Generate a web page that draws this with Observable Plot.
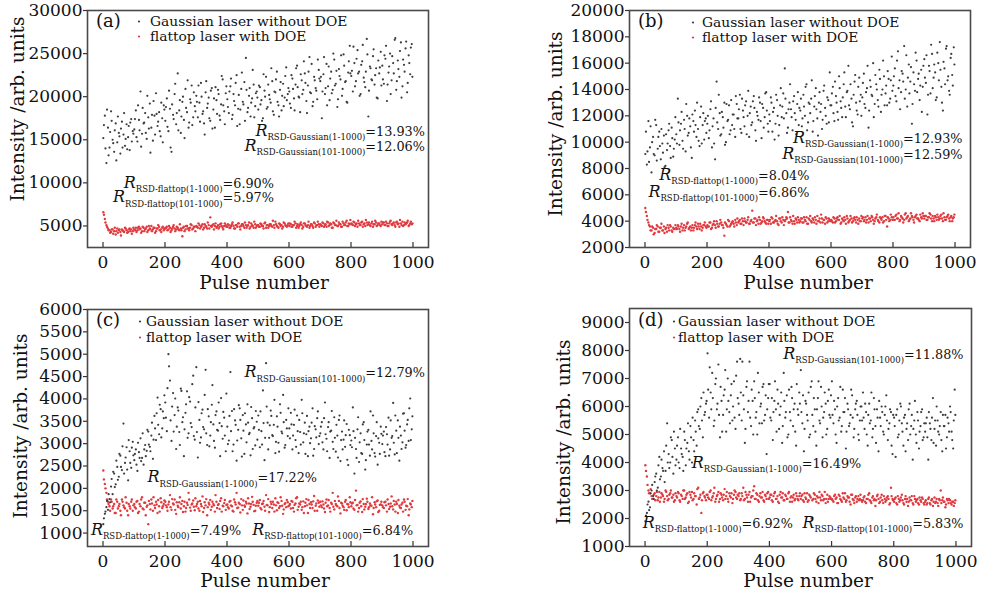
<!DOCTYPE html>
<html><head><meta charset="utf-8">
<script src="https://cdn.jsdelivr.net/npm/d3@7"></script>
<script src="https://cdn.jsdelivr.net/npm/@observablehq/plot@0.6"></script>
<style>
body{margin:0;background:#fff;}
#wrap{position:relative;width:982px;height:595px;overflow:hidden;background:#fff;}
.panel{position:absolute;}
.panel svg{overflow:visible;}
</style></head><body><div id="wrap"></div>
<script>
const startPulse1 = 1;
const startPulse2 = 3;
const sampleStep = 5;
const xTicks = [0, 200, 400, 600, 800, 1000];

// (a)
const gaussA = [
15200,17800,12300,16400,14100,18300,15000,13600,16900,14700,15800,13400,17100,15600,14300,16800,15300,13800,17400,16000,
16200,18400,14800,17300,20600,15700,16900,18100,15100,17600,19200,16400,14900,17800,20400,16600,18200,15400,17500,19000,
17200,19800,16000,18600,13600,17900,20300,16800,22700,18400,15800,19400,17300,20900,18200,16400,19700,21300,17600,18900,
20100,17600,19300,21600,18000,16900,20500,18700,19900,17200,21000,18500,16400,19600,20800,17800,19100,22000,18300,20400,
19700,18100,21200,17400,20300,19000,22500,18600,16800,20900,19400,21700,24500,18200,20100,17700,19800,21400,18900,20600,
18500,21100,19600,17500,20700,22300,18800,20200,19300,21800,17900,20500,22900,19000,20800,18400,21500,19900,23400,20300,
20600,18700,22100,19800,21400,23600,20000,18200,21900,20800,22700,19500,21300,24600,20400,18900,22300,21000,19700,23100,
21800,17500,22600,20300,23800,21200,19600,22900,20800,24300,21500,18800,23200,22000,20100,24900,21700,19400,22800,25900,
22400,20600,23900,21800,25400,22900,20300,24100,22200,21100,26700,17700,23500,22000,24700,21400,23300,19800,22700,25200,
23600,21500,24400,19500,22800,25000,21900,23900,26600,20800,24200,22300,26300,21200,23700,25600,20500,24800,22600,26100];
const gaussA2 = [
16700,14000,18500,13200,15900,17200,14600,16100,12600,17700,15400,16300,14100,18100,15100,13900,16600,17000,14800,15700,
17400,15300,19000,16100,14200,18700,17000,15800,20100,16300,13500,17900,19500,15600,18000,17100,16000,19300,14700,18500,
18800,16500,20700,14100,19100,17400,21500,18100,16100,19600,17700,20000,15200,18700,21900,17000,19300,16700,20500,18300,
19400,21300,17100,20000,18300,15600,21800,19200,17500,20700,16300,19800,21100,18000,20300,17300,22400,19000,16800,21200,
18800,20600,22100,17900,19500,21600,16600,20200,18500,22800,19100,17200,20800,18700,21000,19300,23100,17600,20400,19900,
21300,19100,17200,22600,20000,18600,21400,19700,23300,18300,20600,22000,19400,17700,21700,20100,18900,22400,19600,21000,
19200,22500,20900,18400,23300,21100,19900,22600,20300,24100,21600,18100,22900,20500,23800,19400,21900,20700,24300,22100,
22300,20600,24600,21000,19000,23500,22100,20400,25000,21300,23000,19700,22400,24800,20900,23600,21800,19300,24100,22700,
23000,25800,21200,24400,22700,20100,23700,26000,21700,22900,24900,20700,23300,21900,25500,22500,19900,24200,23400,21300,
22000,24800,25900,21400,23500,20300,24700,22700,26800,21800,23200,25300,19900,24300,22900,26400,21600,23900,25700,22300];
const flatA = [
6600,5800,5100,4700,4500,4300,4600,4400,4000,4700,4500,4300,4600,4400,4800,4500,4300,4700,4600,4400,
4600,4800,4500,4900,4700,4400,4800,4600,4900,4500,4700,5000,4600,4800,4400,4700,4900,4600,4800,4500,
4700,4900,4600,4800,4500,4900,4700,4600,4800,4500,4700,3800,4900,4600,5000,4700,4800,5100,4700,4900,
5000,4800,5100,4900,5200,4800,5000,4700,5100,6000,4900,5200,5000,4800,5100,4900,5300,4800,5000,5100,
4900,5100,4800,5200,5000,4700,5100,5300,4900,5000,5200,4800,5100,5000,5400,4900,5100,4800,5200,5000,
5100,4900,5200,5000,5300,4800,5100,5000,5200,4900,5100,5500,5000,4800,5200,5100,4900,5300,5000,5100,
5000,5200,4900,5100,5300,5000,4800,5200,5100,4900,5300,5000,5100,4800,5200,5000,5400,4900,5100,5200,
5200,5000,5300,5100,4900,5400,5100,5200,4800,5300,5100,5000,5400,5200,4900,5300,5100,5600,5000,5200,
5300,5100,5400,5200,4900,5300,5100,5500,5200,5000,5400,5200,5100,5300,4900,5200,5400,5100,5300,5000,
5200,5400,5100,5300,5000,5500,5200,5300,5100,5400,5200,4900,5300,5500,5100,5200,5400,5000,5300,5200];
const flatA2 = [
6300,5400,4900,4500,4200,4600,4100,4800,4400,4200,4600,3900,4500,4300,4700,4200,4600,4400,4100,4800,
4500,4300,4800,4600,4200,4900,4400,4700,4300,5000,4600,4400,4800,4200,4700,5100,4500,4300,4900,4700,
4800,4500,5000,4300,4700,5100,4400,4900,4600,5200,4500,4800,4400,5000,4700,4500,5200,4600,4900,4400,
4900,5300,4700,5000,4600,5200,4900,5400,4700,5000,5100,4600,5300,4900,4700,5200,5000,4600,5300,4900,
5200,4800,5000,5400,4700,5100,4900,5300,4600,5200,5000,5400,4800,5100,4700,5300,5000,5500,4800,5100,
4900,5300,5000,4700,5400,5100,4800,5200,5000,5600,4800,5200,4900,5300,5000,4700,5400,5100,4900,5300,
5300,4900,5100,5500,4800,5200,5000,5400,4700,5300,5100,4900,5500,5000,5200,4800,5300,5100,5500,4900,
5100,5400,4900,5200,5500,5000,5300,4800,5400,5100,5600,5000,5200,4900,5500,5100,5400,5000,5300,5700,
5200,5500,5000,5300,5600,5100,5400,4900,5300,5700,5100,5400,5000,5500,5200,5600,5000,5300,5100,5500,
5400,5100,5500,5000,5300,5600,5100,5400,4900,5500,5300,5700,5100,5000,5400,5300,5600,5100,5500,5300];
const yTicksA = [5000, 10000, 15000, 20000, 25000, 30000];

// (b)
const gaussB = [
9100,8300,11600,9600,7700,10400,9000,11300,9500,10800,8700,9900,10500,8200,9400,10900,9700,11100,8900,10200,
10600,13300,9800,11400,10100,11700,9300,12000,10700,11200,8800,11600,12400,10400,11000,9700,12700,11300,10200,11800,
11400,10300,12500,9600,11800,8700,14600,11000,12200,10600,11900,13000,10000,11600,12800,10900,11300,12100,10400,12900,
11800,13600,10700,12400,11200,13100,12000,10400,12700,11500,13500,10900,12300,11700,13000,10300,12600,11900,13800,11400,
12100,13400,10800,12600,11400,13200,10500,12800,11900,13700,15600,12200,11100,13000,12500,10900,13500,11700,12900,11300,
12400,11200,13600,12000,14400,11500,12900,13300,10800,12700,14100,11800,13000,12300,11000,13900,12600,11400,13200,15300,
12800,14200,11600,13500,12300,15000,13100,11900,14400,12700,13800,15800,12500,13300,11200,14600,13000,12100,14900,13600,
13400,15200,12600,14100,11100,14700,13600,16000,12900,14400,13200,15500,12300,14000,15000,13700,12800,14800,13300,16500,
14300,15600,13100,16900,14700,13800,15200,17300,14000,12700,15900,14600,11400,15300,13900,16200,14800,13200,15500,14200,
16300,14500,12100,15800,13700,16700,14900,15300,13400,16000,17600,14200,12400,15600,17100,14700,13900,16400,15100,17200];
const gaussB2 = [
10800,9300,8500,11200,10000,9100,11700,8600,10400,9700,11000,9200,8100,10600,9900,11400,8800,10300,9500,11900,
9900,11500,10900,12300,9500,11000,12900,10500,11800,9600,12100,10800,11300,13000,10100,11900,9900,12200,11600,10700,
12000,10900,13100,11200,9900,12600,11500,13600,10500,12300,11100,9800,12900,11700,10600,13200,12100,11000,13500,11800,
12500,11000,13300,11900,12800,10600,13900,12200,11300,13100,12600,10100,12000,13400,11600,12900,11100,13700,12400,10800,
11600,13000,12300,10200,13600,12000,11300,14100,12700,11800,13300,10700,12500,14400,11900,13100,12200,10600,13800,12600,
13300,11800,12700,14200,10900,13000,12200,14700,11600,13500,12500,10500,13800,12900,11700,14300,12000,13400,11500,12800,
13700,12200,14600,13000,11700,14100,12600,13400,15300,11900,13900,12800,14400,11500,13600,15100,12400,14200,13100,12000,
14500,12900,13800,15800,12400,14200,13500,11900,15100,14000,12700,14800,13600,16200,12800,14300,15400,13000,14700,13900,
15000,13500,16200,14100,12500,15400,14600,13300,16600,14900,13700,15700,12900,14400,16800,13800,15200,14300,12300,15800,
14900,16600,13600,15400,17400,14100,15900,13200,16800,14700,15500,13000,16100,14400,17300,15000,13600,16700,14300,15900];
const flatB = [
5000,4400,3900,3600,3300,3500,3100,3400,3600,3200,3500,3300,3600,3400,3200,3500,3700,3300,3500,3400,
3500,3700,3400,3600,3300,3700,3500,3800,3400,3600,3500,3300,3700,3600,3800,3400,3600,3500,3700,3600,
3700,3600,3900,3500,3800,3700,4000,3600,3800,3900,3700,2900,3800,3600,4000,3700,3900,3800,4100,3700,
3900,4100,3800,4000,4200,3900,4100,3800,4000,4800,3900,4200,4000,3800,4100,3900,4300,4000,3800,4100,
4000,3800,4200,3900,4100,4000,3700,4200,3900,4100,4000,4300,4700,3900,4100,3800,4000,4200,3900,4100,
4000,4200,3900,4100,4300,3800,4100,4000,4200,3900,4100,4400,4000,3900,4200,4100,3800,4200,4000,4100,
4100,3900,4200,4000,4300,4100,3800,4200,4000,4100,4400,3900,4100,4200,4000,4300,3900,4100,4200,4000,
4200,4000,4300,4100,3900,4200,4400,4100,4000,4300,4100,3900,4200,4300,4000,4400,3600,4200,4100,4300,
4300,4100,4500,4200,4000,4400,4200,4100,4600,4300,4000,4200,4400,4100,4300,4500,4200,4000,4300,4600,
4200,4400,4100,4300,4500,4000,4200,4400,4100,4300,4200,4500,4000,4300,4100,4400,4200,4300,4000,4300];
const flatB2 = [
4700,4100,3700,3300,3600,3000,3400,3700,3200,3500,3800,3300,3100,3500,3700,3300,3600,3200,3400,3700,
3400,3600,3200,3800,3500,3300,3600,3900,3500,3300,3700,3500,3900,3400,3600,3800,3300,3700,3900,3500,
3600,3900,3400,3700,4000,3500,3800,3600,4100,3700,3500,3900,3700,4100,3600,3800,4000,3600,3900,4200,
4000,3800,4200,3700,4000,3900,4300,3800,4100,3900,4200,3700,4100,4300,3800,4000,4200,3900,4100,3800,
4100,4300,3900,4000,4400,3800,4200,4000,4300,3700,4100,4200,3900,4300,4000,4400,3800,4100,4300,3900,
4200,3900,4300,4000,3800,4200,4400,3900,4100,4300,3800,4000,4200,4500,3900,4100,4300,3900,4200,4000,
4000,4300,3900,4200,4100,4400,3900,4100,4300,3800,4200,4000,4400,3900,4200,4100,4300,3800,4000,4400,
4300,4100,3900,4400,4200,4000,4300,3800,4200,4500,4000,4300,4100,3900,4400,4100,4300,4000,4500,4100,
4100,4400,4200,4600,4100,4300,3900,4500,4200,4400,4100,4600,4300,3900,4400,4200,4100,4500,4200,4400,
4400,4100,4300,4600,4200,4400,4000,4300,4500,4100,4400,4200,4600,4100,4300,4500,4000,4400,4200,4500];
const yTicksB = [2000, 4000, 6000, 8000, 10000, 12000, 14000, 16000, 18000, 20000];

// (c)
const gaussC = [
1200,1430,1580,1520,1760,2040,1870,2330,2090,2480,2260,2730,2410,3450,2570,2920,2180,2830,2460,3040,
2630,2870,2390,2810,3120,2680,2530,2970,2840,3270,2930,3180,2660,3620,3080,4030,3210,3770,3340,3570,
3920,3280,5000,4410,3060,4130,3640,2880,3810,3260,4230,3480,2720,3690,4170,3230,3940,3370,4520,3090,
4710,2690,3530,3140,3760,3320,4650,2970,3610,3180,3870,3430,2910,3720,3290,3460,4020,3110,3580,2830,
3380,3070,4600,3730,2980,3520,2620,3310,3790,3120,3640,2770,3430,3880,3210,2740,3570,3340,2960,3490,
3630,2920,3280,4190,2630,4800,3470,3130,3740,3190,3420,2790,3610,3020,3880,3270,4090,2910,3530,3170,
3340,3690,2870,3420,3080,3630,2790,3260,3980,3030,3470,3210,2720,3380,3120,3790,2880,3320,3570,2990,
3230,3480,2870,3920,3110,3370,2680,3290,3040,3590,2820,3180,3530,2610,3270,3090,2930,3440,2520,3190,
3070,3810,2330,2880,3320,2590,3230,2770,3480,2420,2980,3310,2730,3060,3630,2790,3170,2530,3020,3380,
2990,3270,2720,3210,3580,2870,3130,3910,2760,3290,3520,2620,3180,3030,3680,2910,3430,3060,4010,3320];
const gaussC2 = [
1330,1480,1720,1870,1690,2210,2370,2030,2620,2190,2770,2480,2940,2330,2690,2420,3080,2570,2910,2740,
2770,2530,3020,2680,2610,3230,2870,2720,3310,2980,2830,3470,3090,3340,3680,3420,3870,3140,3720,4080,
3580,4240,4730,3520,3830,3270,4010,3380,3740,2970,4180,3590,3320,3880,3130,4040,3460,4330,3170,3810,
3260,3930,3020,3680,3370,4090,3230,3770,2940,3480,4310,3060,3640,3310,3920,2720,3390,3710,3180,4120,
2990,3620,3280,2830,3770,3420,3070,3860,3530,2710,3290,3680,3030,3470,3240,3820,2880,3370,3730,3090,
3310,3720,2980,3460,3130,3830,2870,3410,3620,3170,3980,3040,3380,2820,3690,3230,3480,2970,3340,3790,
3120,3430,3180,3760,2930,3280,3530,2980,3680,3230,2770,3620,3280,3010,3470,2730,3390,3140,3720,3170,
3380,3030,3570,3210,2830,3480,3270,3730,2880,3130,3420,2690,3630,3080,2870,3520,3190,2640,3310,2970,
2920,3280,3130,2680,3590,3030,2790,3430,3080,2630,3270,2980,3720,2870,3230,2710,3480,3120,2770,3220,
3180,2810,3370,2980,2730,3520,3170,3020,3630,2790,3130,3380,2880,3670,3290,2970,3530,3790,3080,3610];
const flatC = [
2400,2100,1900,1700,1600,1750,1550,1650,1450,1700,1600,1500,1750,1620,1550,1680,1400,1600,1700,1500,
1650,1550,1720,1480,1600,1800,1530,1680,1590,1200,1650,1750,1500,1620,1700,1450,1600,1780,1560,1650,
1700,1580,1640,1850,1520,1660,1750,1430,1610,1690,1550,1720,1600,1480,1680,1900,1570,1640,1730,1510,
1600,1700,1500,1650,1820,1560,1620,1400,1680,1740,1590,1650,1480,1700,1630,1540,1780,1610,1670,1520,
1640,1550,1720,1600,1480,1690,1900,1570,1650,1760,1520,1620,1700,1440,1660,1590,1810,1630,1500,1680,
1610,1740,1530,1660,1590,1850,1620,1470,1700,1560,1640,1780,1510,1670,1600,1720,1430,1650,1580,1690,
1620,1550,1700,1480,1660,1800,1590,1640,1520,1710,1600,1760,1450,1650,1690,1560,1830,1610,1500,1680,
1700,1580,1640,1470,1750,1620,1560,1680,1900,1530,1650,1600,1720,1440,1660,1580,1700,1510,1640,1800,
1600,1680,1520,1950,1630,1560,1710,1470,1650,1590,1770,1540,1660,1610,1420,1690,1580,1730,1500,1640,
1620,1560,1700,1480,1650,1590,1820,1530,1640,1700,1450,1610,1560,1680,1750,1520,1600,1400,1660,1580];
const flatC2 = [
2200,2000,1750,1650,1500,1700,1600,1450,1750,1550,1650,1400,1700,1580,1800,1500,1650,1550,1750,1620,
1580,1700,1450,1650,1750,1550,1680,1400,1620,1720,1530,1660,1800,1560,1640,1740,1480,1690,1600,1730,
1620,1500,1700,1580,1760,1640,1520,1690,1580,1800,1650,1470,1700,1560,1630,1750,1500,1660,1590,1780,
1650,1550,1720,1600,1470,1690,1760,1580,1640,1520,1700,1620,1850,1560,1650,1720,1480,1600,1740,1630,
1580,1700,1620,1500,1750,1640,1560,1680,1460,1620,1730,1590,1660,1780,1540,1650,1700,1490,1610,1720,
1680,1560,1650,1720,1500,1630,1760,1580,1650,1700,1480,1620,1690,1560,1800,1610,1530,1670,1740,1600,
1650,1720,1560,1630,1780,1520,1660,1700,1580,1450,1680,1620,1740,1560,1640,1710,1500,1660,1730,1590,
1620,1710,1550,1680,1600,1740,1480,1650,1590,1720,1620,1820,1560,1680,1610,1520,1740,1650,1580,1690,
1660,1550,1740,1620,1480,1680,1600,1760,1530,1650,1700,1580,1620,1800,1560,1640,1710,1470,1630,1700,
1580,1690,1620,1750,1540,1660,1600,1720,1480,1650,1740,1570,1640,1480,1700,1610,1760,1530,1640,1720];
const yTicksC = [1000, 1500, 2000, 2500, 3000, 3500, 4000, 4500, 5000, 5500, 6000];

// (d)
const gaussD = [
1900,2200,2600,2400,3000,2800,3300,3600,3100,4200,3500,3800,4400,3700,5400,4300,4000,4800,3600,4500,
4100,4900,3800,4500,4200,5100,3900,4700,4400,5300,4000,4800,5500,4600,5900,5200,6300,4900,5700,6100,
7900,5600,6500,7200,5300,6800,5900,7500,4900,6200,5700,6600,5100,7000,5800,6400,5500,6900,5200,7600,
6100,7700,5500,6400,4700,6700,5800,7600,5300,6200,6900,5600,5000,6500,6000,5400,6800,5700,4300,6300,
6800,5500,4800,6200,5900,6600,5200,6000,4700,7200,5600,6400,5000,5800,6700,5300,6100,4600,5900,6500,
7300,5400,4400,6200,5700,6500,5000,6900,5300,5900,4600,6300,5500,6700,4900,5800,6100,5200,6600,5600,
6900,5400,5900,4700,6300,5600,5100,6600,5800,4500,6100,5300,5700,6400,4900,5900,6200,5000,5500,6000,
6500,5200,5800,4600,6100,5500,4900,6300,5300,5900,4400,5600,6000,5100,5700,6400,4800,5400,5800,4300,
5600,4200,5900,5000,6100,5400,4600,5700,5200,4800,6100,5300,4100,5500,5000,5800,4500,5300,5900,4900,
5100,5600,4100,5400,4800,6300,5200,4600,5500,5000,5800,4400,5300,5700,4900,5400,6000,5100,4500,6600];
const gaussD2 = [
2100,2500,2300,2900,3200,2700,3500,3000,3900,3400,4100,3700,3300,4600,4000,3800,4900,4200,5100,3900,
4600,4000,5200,4300,3700,4800,4500,5400,4100,4900,5600,4400,5100,5800,5300,6000,5500,6500,5800,6200,
6600,7400,5900,6300,5500,7000,6100,5700,6700,5100,6400,7300,5900,6200,5400,6800,6000,5600,7100,6300,
5700,6500,7600,5900,5200,6900,6200,5600,6600,5000,6300,5800,7200,5400,6100,6700,5500,6400,5900,6800,
5600,6300,5800,6900,5100,6100,5700,6500,5300,6200,5800,4900,6600,5500,6300,5900,5100,6800,5700,6100,
5800,6400,5200,6100,5500,4900,6700,5700,6300,5100,5900,6900,5400,6000,5600,6500,5000,6200,5700,6400,
5700,6200,5000,6000,5500,6700,5300,5800,6300,5100,5900,5400,6600,5600,5200,6100,5700,4800,6000,5500,
5600,6100,5000,5700,5400,6500,5200,5900,4700,5600,6200,5300,5800,5000,6000,5500,5200,5900,4600,5700,
5300,5700,4900,5500,6000,5100,5600,4400,5400,5900,5000,5700,5200,6200,4700,5500,5100,5800,4800,5400,
5400,4900,5800,5200,5600,4700,5500,6000,5100,5300,4800,5700,5300,4500,5600,5100,5800,4800,5500,5700];
const flatD = [
3900,3500,3000,2900,2800,2700,2900,2800,2650,2950,2750,2850,2600,3000,2800,2700,2900,2750,2850,2650,
2800,2950,2650,2850,2700,3000,2750,2900,2600,2850,2950,2700,2800,2500,3100,2750,2200,2900,2800,2650,
2850,2700,3000,2750,2900,2600,2800,2950,2700,2850,2650,3050,2800,2700,2900,2750,2550,2850,2950,2700,
2800,2650,2900,3100,2700,2850,2600,2950,2750,2800,3150,2700,2850,2600,2900,2750,2650,2850,2700,2950,
2750,2850,2600,2900,2700,2800,2550,2950,2750,2650,2850,2700,2900,2600,2800,2750,2650,2900,2700,2800,
2700,2850,2600,2750,2900,2650,2800,2000,2700,2850,2600,2750,2950,2650,2800,2700,2550,2850,2700,2750,
2700,2600,2850,2750,2550,2800,2650,2900,2700,2600,2800,2750,2500,2850,2650,2750,2600,2800,2700,2650,
2650,2800,2550,2700,2900,2600,2750,2650,2450,2800,2700,2600,2850,2550,2700,2650,2800,2500,3100,2700,
2600,2750,2500,2700,2650,2850,2550,2700,2600,2450,2750,2650,2550,2800,2600,2700,2500,2650,2750,2550,
2600,2500,2700,2550,2650,2450,2750,2600,2550,2700,3000,2650,2600,2400,2700,2550,2650,2500,2600,2550];
const flatD2 = [
3700,3200,2900,3050,2700,2850,2650,2950,2750,2600,2900,2800,2700,2950,2650,2850,3000,2750,2600,2900,
2750,2900,2600,2800,3000,2700,2850,2550,2950,2750,2650,2900,2800,3050,2700,2850,2650,2950,2750,2850,
2750,2950,2650,2800,3100,2700,2850,2600,2900,2750,2850,2700,2950,2600,2800,2900,2700,3000,2750,2850,
2900,2700,2800,2650,2950,2750,2850,2600,2800,3000,2700,2900,2650,2800,2750,2950,2600,2800,2900,2700,
2850,2650,2800,2950,2700,2600,2850,2750,2900,2650,2800,2700,2950,2750,2600,2850,2700,2800,2650,2900,
2800,2650,2900,2700,2600,2850,2750,2650,2900,2700,2800,2550,2750,2850,2650,2950,2700,2600,2800,2700,
2650,2800,2700,2550,2850,2700,2600,2750,2900,2650,2750,2600,2850,2700,2550,2800,2700,2650,2850,2600,
2750,2600,2700,2850,2650,2550,2800,2700,2650,2850,2550,2750,2650,2800,2600,2750,2700,2550,2800,2650,
2700,2550,2800,2600,2750,2650,2500,2800,2700,2600,2650,2800,2500,2700,2650,2550,2750,2600,2700,2500,
2650,2550,2750,2500,2700,2600,2550,2700,2450,2650,2550,2750,2600,2500,2650,2700,2550,2600,2450,2650];
const yTicksD = [1000, 2000, 3000, 4000, 5000, 6000, 7000, 8000, 9000];

const legendLabels = ["Gaussian laser without DOE", "flattop laser with DOE"];
const colors = {gauss: "#3c3c3c", flat: "#e0393e"};
const FONT = "DejaVu Serif";

const panels = [
  {letter: "(a)", gauss: [gaussA, gaussA2], flat: [flatA, flatA2], yDomain: [2500, 30000], yTicks: yTicksA,
   left: 0, top: 0, w: 491, h: 297, ml: 87, mr: 63, mt: 10, mb: 50,
   letterX: 96, letterY: 27, markX: 139, textX: 150, legY: [26, 41],
   ylab: {x: 24, y: 109}, xlab: {x: 264, y: 289},
   notes: [
     {sub: "RSD-Gaussian(1-1000)", val: "=13.93%", pulse: 1040, v: 15380},
     {sub: "RSD-Gaussian(101-1000)", val: "=12.06%", pulse: 1040, v: 13640},
     {sub: "RSD-flattop(1-1000)", val: "=6.90%", pulse: 553, v: 9346},
     {sub: "RSD-flattop(101-1000)", val: "=5.97%", pulse: 553, v: 7720}]},
  {letter: "(b)", gauss: [gaussB, gaussB2], flat: [flatB, flatB2], yDomain: [2000, 20000], yTicks: yTicksB,
   left: 491, top: 0, w: 491, h: 297, ml: 138, mr: 12, mt: 10, mb: 50,
   letterX: 147, letterY: 27, markX: 202, textX: 211, legY: [27, 42],
   ylab: {x: 71, y: 124}, xlab: {x: 317, y: 289},
   notes: [
     {sub: "RSD-Gaussian(1-1000)", val: "=12.93%", pulse: 1026, v: 9900},
     {sub: "RSD-Gaussian(101-1000)", val: "=12.59%", pulse: 1026, v: 8684},
     {sub: "RSD-flattop(1-1000)", val: "=8.04%", pulse: 532, v: 7089},
     {sub: "RSD-flattop(101-1000)", val: "=6.86%", pulse: 532, v: 5798}]},
  {letter: "(c)", gauss: [gaussC, gaussC2], flat: [flatC, flatC2], yDomain: [700, 6000], yTicks: yTicksC,
   left: 0, top: 297, w: 491, h: 298, ml: 87, mr: 63, mt: 12, mb: 49,
   letterX: 96, letterY: 29, markX: 140, textX: 146, legY: [29, 45],
   ylab: {x: 27, y: 129}, xlab: {x: 265, y: 290},
   notes: [
     {sub: "RSD-Gaussian(101-1000)", val: "=12.79%", pulse: 1040, v: 4479},
     {sub: "RSD-Gaussian(1-1000)", val: "=17.22%", pulse: 692, v: 2131},
     {sub: "RSD-flattop(1-1000)", val: "=7.49%", pulse: 447, v: 946},
     {sub: "RSD-flattop(101-1000)", val: "=6.84%", pulse: 1002, v: 946}]},
  {letter: "(d)", gauss: [gaussD, gaussD2], flat: [flatD, flatD2], yDomain: [1000, 9500], yTicks: yTicksD,
   left: 491, top: 297, w: 491, h: 298, ml: 138, mr: 11, mt: 11, mb: 49,
   letterX: 147, letterY: 29, markX: 183, textX: 187, legY: [29, 45],
   ylab: {x: 79, y: 135}, xlab: {x: 317, y: 290},
   notes: [
     {sub: "RSD-Gaussian(101-1000)", val: "=11.88%", pulse: 1026, v: 7680},
     {sub: "RSD-Gaussian(1-1000)", val: "=16.49%", pulse: 697, v: 3786},
     {sub: "RSD-flattop(1-1000)", val: "=6.92%", pulse: 477, v: 1643},
     {sub: "RSD-flattop(101-1000)", val: "=5.83%", pulse: 1026, v: 1643}]}
];

function rows([set1, set2]) {
  return [
    ...set1.map((v, i) => ({pulse: startPulse1 + i * sampleStep, value: v})),
    ...set2.map((v, i) => ({pulse: startPulse2 + i * sampleStep, value: v}))
  ];
}

const wrap = document.getElementById("wrap");
for (const p of panels) {
  const chart = Plot.plot({
    width: p.w, height: p.h,
    marginLeft: p.ml, marginRight: p.mr, marginTop: p.mt, marginBottom: p.mb,
    style: {fontFamily: FONT, fontSize: "17px", color: "#111", background: "transparent", overflow: "visible"},
    x: {domain: [-50, 1050], label: null},
    y: {domain: p.yDomain, label: null},
    marks: [
      Plot.dot(rows(p.flat), {x: "pulse", y: "value", r: 1.2, fill: colors.flat}),
      Plot.dot(rows(p.gauss), {x: "pulse", y: "value", r: 1.1, fill: colors.gauss}),
      Plot.frame({stroke: "#4a4a4a", strokeWidth: 1.6}),
      Plot.axisY(p.yTicks, {anchor: "left", tickSize: 4, tickPadding: 1, tickFormat: "d", label: null, stroke: "#333", strokeWidth: 1.2, fontSize: 17}),
      Plot.axisX(xTicks, {anchor: "bottom", tickSize: 5, dy: -5, tickFormat: () => "", label: null, stroke: "#333", strokeWidth: 1.2}),
      Plot.axisX(xTicks, {anchor: "bottom", tickSize: 0, tickPadding: 8, tickFormat: "d", label: null, fontSize: 17})
    ]
  });
  const div = document.createElement("div");
  div.className = "panel";
  div.style.left = p.left + "px"; div.style.top = p.top + "px";
  div.style.width = p.w + "px"; div.style.height = p.h + "px";
  div.appendChild(chart);
  wrap.appendChild(div);

  const svg = d3.select(chart);
  const sx = chart.scale("x"), sy = chart.scale("y");
  const g = svg.append("g").attr("font-family", FONT).attr("fill", "#111").attr("text-anchor", "start");

  // panel letter
  g.append("text").attr("x", p.letterX).attr("y", p.letterY).attr("font-size", 18).text(p.letter);
  // legend
  [colors.gauss, colors.flat].forEach((c, i) => {
    g.append("circle").attr("cx", p.markX).attr("cy", p.legY[i] - 4.5).attr("r", 1.1).attr("fill", c);
    g.append("text").attr("x", p.textX).attr("y", p.legY[i]).attr("font-size", 13.8).text(legendLabels[i]);
  });
  // annotations (anchored in data coordinates)
  for (const n of p.notes) {
    const t = g.append("text").attr("x", sx.apply(n.pulse)).attr("y", sy.apply(n.v)).attr("text-anchor", "end");
    t.append("tspan").attr("font-style", "italic").attr("font-size", 16).text("R");
    t.append("tspan").attr("font-size", 8.5).attr("dy", 4.5).text(n.sub);
    t.append("tspan").attr("font-size", 12.8).attr("dy", -4.5).text(n.val);
  }
  // axis titles
  g.append("text").attr("transform", `translate(${p.ylab.x},${p.ylab.y}) rotate(-90)`)
    .attr("text-anchor", "middle").attr("font-size", 18.5).text("Intensity /arb. units");
  g.append("text").attr("x", p.xlab.x).attr("y", p.xlab.y)
    .attr("text-anchor", "middle").attr("font-size", 18.5).text("Pulse number");
}
</script></body></html>
